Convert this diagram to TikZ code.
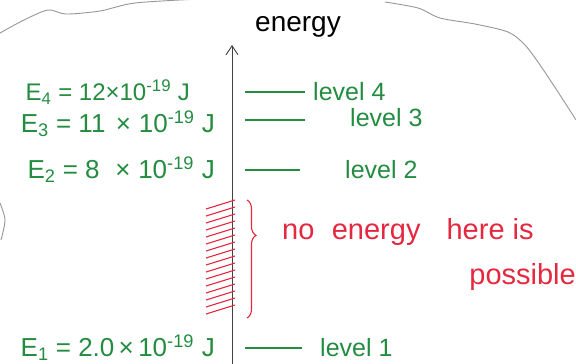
\documentclass[tikz,border=0pt]{standalone}
\usepackage{fontspec}
\setmainfont{Liberation Sans}
\definecolor{ink}{RGB}{35,140,65}
\definecolor{pen}{RGB}{228,40,64}
\definecolor{pencil}{RGB}{150,150,150}
\usetikzlibrary{arrows.meta,positioning,decorations.pathreplacing}
\tikzset{
  outline/.style={draw=pencil,line width=0.9pt},
  axis/.style={-{Straight Barb[length=9pt,width=12pt]},line width=0.9pt,draw=black!75},
  lvl/.style={draw=ink,line width=1.4pt},
  eq/.style={text=ink,font=\fontsize{26}{30}\selectfont,inner sep=0pt},
  lvltxt/.style={text=ink,font=\fontsize{25}{30}\selectfont,inner sep=0pt},
  hatch/.style={draw=pen,line width=1.1pt},
  gap/.style={text=pen,font=\fontsize{29}{34}\selectfont,inner sep=0pt,align=left},
}

\begin{document}
\begin{tikzpicture}[x=1pt,y=-1pt,node distance=6pt and 10pt]
  \useasboundingbox (0,0) rectangle (576,364);
  % pencil outline round the sheet
  \draw[outline] plot[smooth] coordinates {(0,33) (24,20) (48,10) (66,14) (100,11) (135,3) (200,-1)};
  \draw[outline] plot[smooth] coordinates {(385,2) (418,8) (440,18) (475,24) (508,32) (524,44) (538,62) (558,92) (576,120)};
  \draw[outline] plot[smooth] coordinates {(0,203) (5,220) (1,240)};

  % energy axis
  \coordinate (base) at (232,364);
  \coordinate (tip) at (232,45);
  \draw[axis] (base) -- (tip);
  \node[font=\fontsize{28}{32}\selectfont,inner sep=0pt] (energy) at (298,27) {energy};

  % levels
  \coordinate (l4a) at (245,92);  \coordinate (l4b) at (305,92);
  \coordinate (l3a) at (245,120); \coordinate (l3b) at (305,120);
  \coordinate (l2a) at (245,170); \coordinate (l2b) at (300,170);
  \coordinate (l1a) at (245,348); \coordinate (l1b) at (302,348);
  \foreach \n in {4,3,2,1}
    \draw[lvl] (l\n a) -- (l\n b);

  \node[eq,anchor=east,font=\fontsize{24}{28}\selectfont] (e4) at (190,92)  {E\textsubscript{4} = 12×10\textsuperscript{-19} J};
  \node[eq,anchor=east] (e3) at (215,124) {E\textsubscript{3} = 11\hspace{0.4em}×\hspace{0.3em}10\textsuperscript{-19} J};
  \node[eq,anchor=east] (e2) at (215,170) {E\textsubscript{2} = 8\hspace{0.6em}×\hspace{0.3em}10\textsuperscript{-19}\hspace{0.3em}J};
  \node[eq,anchor=east] (e1) at (215,348) {E\textsubscript{1} = 2.0\,×\,10\textsuperscript{-19}\hspace{0.3em}J};

  \node[lvltxt,right=8pt of l4b] (n4) {level 4};
  \node[lvltxt,anchor=west] (n3) at (350,118) {level 3};
  \node[lvltxt,anchor=west] (n2) at (345,170) {level 2};
  \node[lvltxt,right=18pt of l1b] (n1) {level 1};

  % forbidden band
  \foreach \y in {204,211,...,312}
    \draw[hatch] (206,\y+5) -- (235,\y-4);
  \coordinate (gtop) at (247,200);
  \coordinate (gbot) at (247,318);
  \draw[hatch,decorate,decoration={brace,amplitude=9pt,aspect=0.3}] (gtop) -- (gbot);
  \node[gap,anchor=west] (none) at (282,232) {no\hspace{0.6em}energy\hspace{0.9em}here is};
  \node[gap,anchor=east] (poss) at (576,277) {possible};
\end{tikzpicture}
\end{document}
